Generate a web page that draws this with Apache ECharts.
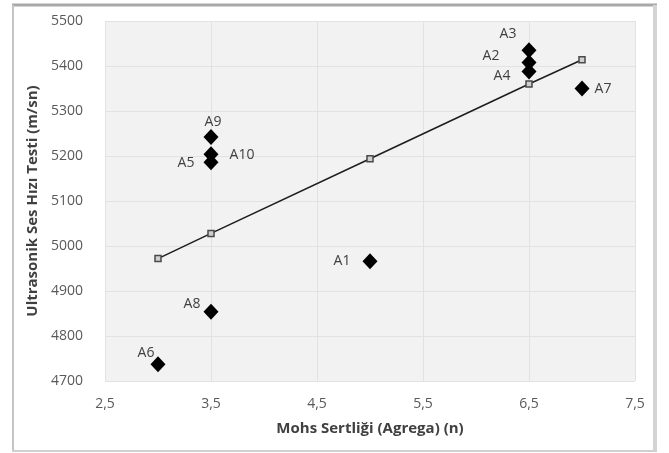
<!DOCTYPE html>
<html>
<head>
<meta charset="utf-8">
<script src="https://cdn.jsdelivr.net/npm/echarts@6/dist/echarts.min.js"></script>
<style>
  html, body { margin: 0; padding: 0; background: #fff; }
  #chart { width: 669px; height: 453px; }
</style>
</head>
<body>
<div id="chart"></div>
<script>
// numune adlari ve olcumler
const sampleNames = ['A1', 'A2', 'A3', 'A4', 'A5', 'A6', 'A7', 'A8', 'A9', 'A10']
const mohsHardness = [5, 6.5, 6.5, 6.5, 3.5, 3, 7, 3.5, 3.5, 3.5]
const pulseVelocity = [4966, 5408, 5435, 5388, 5186, 4737, 5350, 4854, 5242, 5204]

// dogrusal egilim cizgisi
const trendHardness = [3, 3.5, 5, 6.5, 7]
const trendVelocity = [4972, 5028, 5194, 5360, 5414]

const xTickLabels = ['2,5', '3,5', '4,5', '5,5', '6,5', '7,5']
const yTickLabels = ['4700', '4800', '4900', '5000', '5100', '5200', '5300', '5400', '5500']

// etiketlerin noktaya gore kaydirmasi
const labelOffsets = [
  [-28, 0], [-38, -6], [-21, -16], [-27, 5], [-25, 1],
  [-12, -11], [21, 1], [-19, -8], [2, -15], [31, 1]
]

const FONT = '"Open Sans", "Noto Sans", sans-serif'

const chart = echarts.init(document.getElementById('chart'), null, { renderer: 'canvas' })

const option = {
  backgroundColor: '#ffffff',
  animation: false,
  grid: {
    left: 105,
    top: 21,
    width: 530,
    height: 360,
    show: true,
    backgroundColor: '#f2f2f2',
    borderWidth: 0
  },
  graphic: [
    { type: 'line', shape: { x1: 12, y1: 5, x2: 657, y2: 5 }, style: { stroke: '#a8a8a8', lineWidth: 3 } },
    { type: 'line', shape: { x1: 13, y1: 5, x2: 13, y2: 451 }, style: { stroke: '#c4c4c4', lineWidth: 2 } },
    { type: 'line', shape: { x1: 655, y1: 5, x2: 655, y2: 451 }, style: { stroke: '#d4d4d4', lineWidth: 4 } },
    { type: 'line', shape: { x1: 12, y1: 451, x2: 657, y2: 451 }, style: { stroke: '#d0d0d0', lineWidth: 2 } }
  ],
  xAxis: {
    type: 'value',
    min: 2.5,
    max: 7.5,
    interval: 1,
    name: 'Mohs Sertliği (Agrega) (n)',
    nameLocation: 'middle',
    nameGap: 40,
    nameTextStyle: { fontFamily: FONT, fontSize: 15, fontWeight: 'bold', color: '#404040' },
    axisLine: { show: false },
    axisTick: { show: false },
    axisLabel: {
      margin: 16,
      fontFamily: FONT,
      fontSize: 14,
      color: '#595959',
      formatter: v => xTickLabels[Math.round(v - 2.5)]
    },
    splitLine: { show: true, lineStyle: { color: '#e2e2e2', width: 1 } }
  },
  yAxis: {
    type: 'value',
    min: 4700,
    max: 5500,
    interval: 100,
    name: 'Ultrasonik Ses Hızı Testi (m/sn)',
    nameLocation: 'middle',
    nameGap: 61,
    nameTextStyle: { fontFamily: FONT, fontSize: 15, fontWeight: 'bold', color: '#404040' },
    axisLine: { show: false },
    axisTick: { show: false },
    axisLabel: {
      margin: 22,
      fontFamily: FONT,
      fontSize: 14,
      color: '#595959',
      formatter: v => yTickLabels[Math.round((v - 4700) / 100)]
    },
    splitLine: { show: true, lineStyle: { color: '#e2e2e2', width: 1 } }
  },
  series: [
    {
      name: 'Egilim',
      type: 'line',
      data: trendHardness.map((x, i) => [x, trendVelocity[i]]),
      symbol: 'rect',
      symbolSize: 6,
      showAllSymbol: true,
      lineStyle: { color: '#1f1f1f', width: 1.6 },
      itemStyle: { color: '#cfcfcf', borderColor: '#4a4a4a', borderWidth: 1.5 },
      z: 2
    },
    {
      name: 'Numuneler',
      type: 'scatter',
      data: sampleNames.map((n, i) => ({
        name: n,
        value: [mohsHardness[i], pulseVelocity[i]],
        label: { offset: labelOffsets[i] }
      })),
      symbol: 'diamond',
      symbolSize: [15, 16],
      itemStyle: { color: '#000000', opacity: 1 },
      label: {
        show: true,
        position: 'inside',
        formatter: '{b}',
        fontFamily: FONT,
        fontSize: 14,
        color: '#404040'
      },
      z: 3
    }
  ]
}

chart.setOption(option)
</script>
</body>
</html>
